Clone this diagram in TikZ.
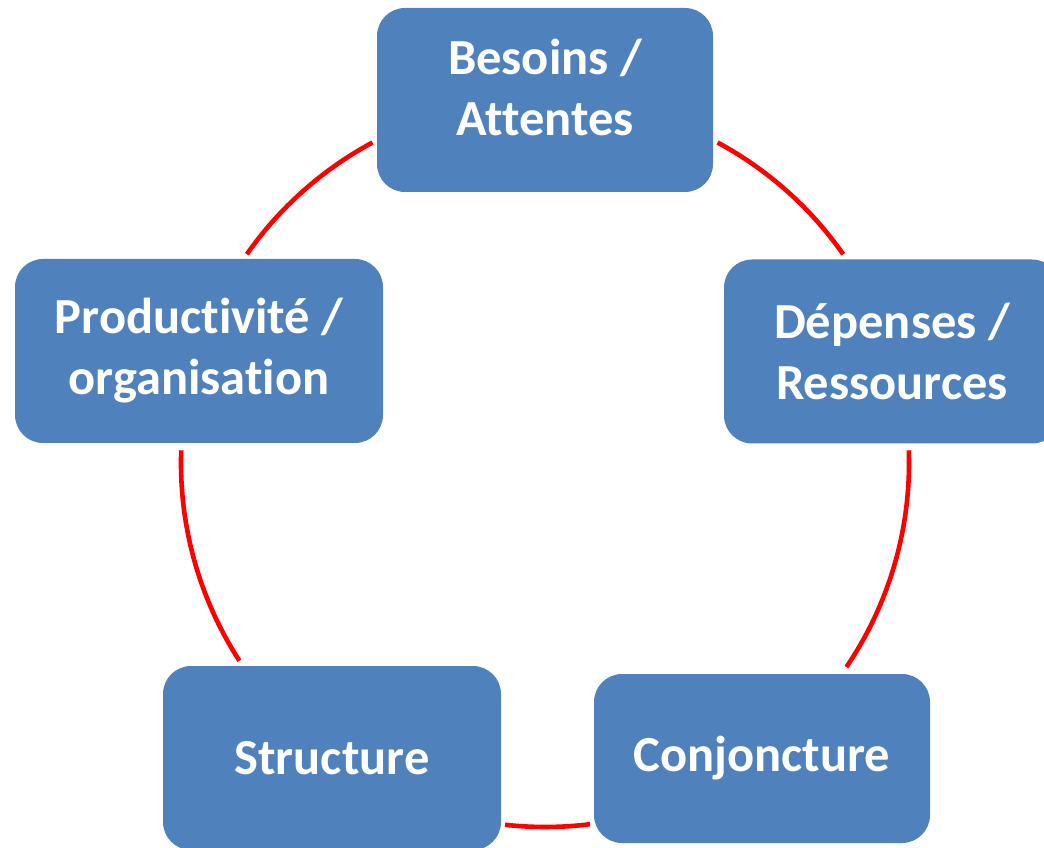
\documentclass[tikz,border=0pt]{standalone}
\usepackage{fontspec}
\setmainfont{Carlito}[RawFeature={-liga;-clig}]
\definecolor{boxblue}{RGB}{79,129,189}
\definecolor{ringred}{RGB}{255,0,0}
\begin{document}
\begin{tikzpicture}[x=1pt,y=1pt,
  cyclebox/.style={fill=boxblue, rounded corners=28pt, minimum width=336pt, minimum height=184pt,
    text=white, align=center, inner sep=0pt,
    font=\bfseries\fontsize{50.5}{61}\selectfont},
  ring/.style={draw=ringred, line width=4.6pt}]
\useasboundingbox (0,0) rectangle (1044,847);
\coordinate (ctr) at (545,384);
\node[cyclebox] (besoins) at (545,747) {\raisebox{0pt}[\height][\dimexpr\depth+14pt\relax]{\begin{tabular}{@{}c@{}}Besoins /\\Attentes\end{tabular}}};
\node[cyclebox] (depenses) at (892,495.5) {Dépenses /\\Ressources};
\node[cyclebox, minimum height=169pt] (conj) at (762,88.5) {Conjoncture};
\node[cyclebox, minimum width=338pt] (struct) at (332,89) {Structure};
\node[cyclebox, minimum width=368pt] (prod) at (199,496) {Productivité /\\organisation};
% arcs of the ring, between the boxes
\draw[ring] (ctr) ++(61.7:364) arc[start angle=61.7, end angle=35.0, radius=364];
\draw[ring] (ctr) ++(2.0:364) arc[start angle=2.0, end angle=-34.1, radius=364];
\draw[ring] (ctr) ++(-82.9:364) arc[start angle=-82.9, end angle=-96.3, radius=364];
\draw[ring] (ctr) ++(212.9:364) arc[start angle=212.9, end angle=178.0, radius=364];
\draw[ring] (ctr) ++(145.0:364) arc[start angle=145.0, end angle=118.3, radius=364];
\end{tikzpicture}
\end{document}
